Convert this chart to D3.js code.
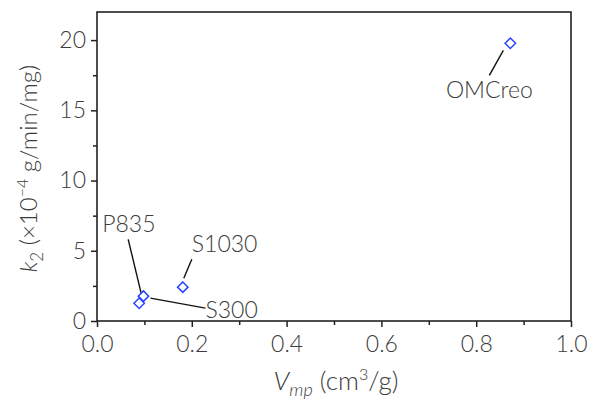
<!DOCTYPE html>
<html><head><meta charset="utf-8">
<script src="https://cdn.jsdelivr.net/npm/d3@7"></script>
<style>body{margin:0;background:#fff}svg{display:block}text{font-family:Lato,"Open Sans",sans-serif;font-weight:300;fill:#3c3c3c}</style>
</head><body>
<script>
const samples = ["P835", "S300", "S1030", "OMCreo"];
const vmp = [0.089, 0.098, 0.181, 0.872];
const k2 = [1.26, 1.77, 2.41, 19.77];
const xTicks = [0, 0.2, 0.4, 0.6, 0.8, 1.0];
const yTicks = [0, 5, 10, 15, 20];
// label annotation offsets (px) relative to the point: leader start, leader end, text anchor
const labelOffsets = [
  {lx1: 2, ly1: -10, lx2: -11, ly2: -64, tx: -37, ty: -71, a: "start"},
  {lx1: 7, ly1: 2, lx2: 62, ly2: 12, tx: 62, ty: 22, a: "start"},
  {lx1: 1, ly1: -9, lx2: 9, ly2: -28, tx: 9, ty: -35, a: "start"},
  {lx1: -7, ly1: 7, lx2: -21, ly2: 32, tx: -21, ty: 55, a: "middle"}
];

const W = 593, H = 401;
const m = {l: 97, r: 22, t: 12, b: 80};
const svg = d3.select("body").append("svg").attr("width", W).attr("height", H);
const x = d3.scaleLinear().domain([0, 1]).range([m.l, W - m.r]);
const y = d3.scaleLinear().domain([0, 22]).range([H - m.b, m.t]);

const axisCol = "#222";
// x axis
const gx = svg.append("g").attr("transform", `translate(0,${H - m.b})`);
gx.call(d3.axisBottom(x).tickValues(xTicks).tickFormat(d3.format(".1f")).tickSizeOuter(0).tickSize(6).tickPadding(5));
svg.append("g").attr("transform", `translate(0,${H - m.b})`)
  .call(d3.axisBottom(x).tickValues([0.1,0.3,0.5,0.7,0.9]).tickFormat("").tickSizeOuter(0).tickSize(4))
  .select(".domain").remove();
// y axis
const gy = svg.append("g").attr("transform", `translate(${m.l},0)`);
gy.call(d3.axisLeft(y).tickValues(yTicks).tickSizeOuter(0).tickSize(6).tickPadding(5));
svg.append("g").attr("transform", `translate(${m.l},0)`)
  .call(d3.axisLeft(y).tickValues([2.5,7.5,12.5,17.5]).tickFormat("").tickSizeOuter(0).tickSize(4))
  .select(".domain").remove();
svg.selectAll(".tick line").attr("stroke", axisCol).attr("stroke-width", 1.5);
svg.selectAll(".tick text").style("font-size", "23px").attr("fill", "#3c3c3c");
gx.selectAll(".tick text").attr("dy", "0.85em");
svg.selectAll(".domain").remove();
// frame
svg.append("rect").attr("x", x(0)).attr("y", y(22)).attr("width", x(1) - x(0)).attr("height", y(0) - y(22))
  .attr("fill", "none").attr("stroke", axisCol).attr("stroke-width", 1.6);

// axis titles
const xt = svg.append("text").attr("x", (x(0) + x(1)) / 2 + 2).attr("y", 390).attr("text-anchor", "middle").style("font-size", "26px");
xt.append("tspan").text("V").style("font-style", "italic");
xt.append("tspan").text("mp").style("font-style", "italic").style("font-size", "18px").attr("dy", 6);
xt.append("tspan").text(" (cm").attr("dy", -6);
xt.append("tspan").text("3").style("font-size", "16px").attr("dy", -10);
xt.append("tspan").text("/g)").attr("dy", 10);

const yt = svg.append("text").attr("transform", `translate(37,${(y(0) + y(22)) / 2 + 2}) rotate(-90)`).attr("text-anchor", "middle").style("font-size", "24px");
yt.append("tspan").text("k").style("font-style", "italic");
yt.append("tspan").text("2").style("font-size", "17px").attr("dy", 6);
yt.append("tspan").text(" (×10").attr("dy", -6);
yt.append("tspan").text("−4").style("font-size", "16px").attr("dy", -9);
yt.append("tspan").text(" g/min/mg)").attr("dy", 9);

// leaders and labels
samples.forEach((s, i) => {
  const px = x(vmp[i]), py = y(k2[i]), o = labelOffsets[i];
  svg.append("line").attr("x1", px + o.lx1).attr("y1", py + o.ly1).attr("x2", px + o.lx2).attr("y2", py + o.ly2)
    .attr("stroke", "#111").attr("stroke-width", 1.4);
  svg.append("text").attr("x", px + o.tx).attr("y", py + o.ty).attr("text-anchor", o.a).style("font-size", "23px").text(s);
});

// markers
svg.selectAll("path.pt").data(vmp).enter().append("path").attr("class", "pt")
  .attr("d", d3.symbol().type(d3.symbolDiamond2).size(70))
  .attr("transform", (d, i) => `translate(${x(d)},${y(k2[i])})`)
  .attr("fill", "none").attr("stroke", "#2a45ff").attr("stroke-width", 1.5);
</script>
</body></html>
